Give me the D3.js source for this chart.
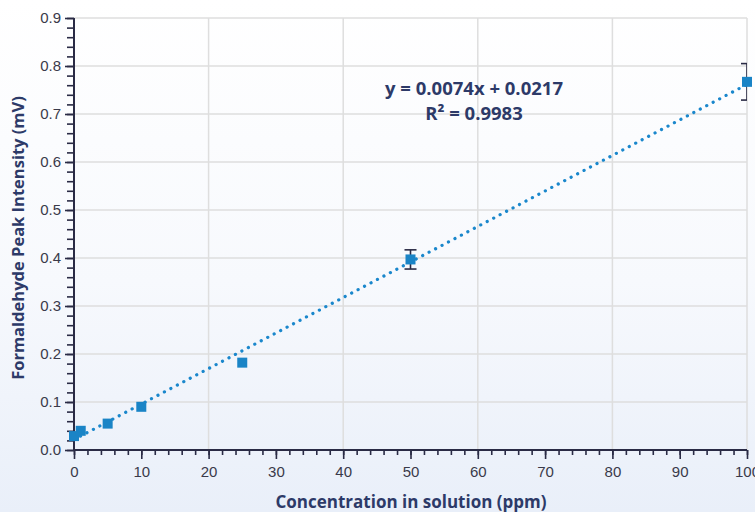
<!DOCTYPE html>
<html>
<head>
<meta charset="utf-8">
<script src="https://cdn.jsdelivr.net/npm/d3@7"></script>
<style>
  html, body { margin: 0; padding: 0; }
  body { width: 755px; height: 512px; overflow: hidden;
         background: linear-gradient(#ffffff 0%, #f7f9fd 55%, #e9eff9 100%); }
  svg { display: block; font-family: "Open Sans", "Lato", sans-serif; }
</style>
</head>
<body>
<div id="chart"></div>
<script>
// data
const conc = [0, 1, 5, 10, 25, 50, 100];
const intensity = [0.029, 0.040, 0.055, 0.090, 0.182, 0.397, 0.767];
const errors = [0, 0, 0, 0, 0, 0.020, 0.038];
const slope = 0.0074, intercept = 0.0217;
const xTicks = [0, 10, 20, 30, 40, 50, 60, 70, 80, 90, 100];
const yTicks = [0, 0.1, 0.2, 0.3, 0.4, 0.5, 0.6, 0.7, 0.8, 0.9];
const eqText = "y = 0.0074x + 0.0217";
const r2Text = "R² = 0.9983";

let points = conc.map((c, i) => ({ x: c, y: intensity[i], e: errors[i] }));

let fullWidth = 800, fullHeight = 512;
let margin = { top: 18, right: 53, bottom: 62, left: 74 };
let width = 673, height = 432;

let svg = d3.select("#chart").append("svg")
    .attr("width", fullWidth)
    .attr("height", fullHeight);

// clip for error bars (they are cut at the plot edge)
svg.append("defs").append("clipPath").attr("id", "plotclip")
    .append("rect").attr("x", -10).attr("y", -10).attr("width", width + 10).attr("height", height + 20);

let g = svg.append("g")
    .attr("transform", `translate(${margin.left},${margin.top})`);

let x = d3.scaleLinear().domain([0, 100]).range([0, width]);
let y = d3.scaleLinear().domain([0, 0.9]).range([height, 0]);

// grid lines
g.append("g")
    .selectAll("line")
    .data(yTicks.slice(1))
    .join("line")
    .attr("x1", 0).attr("x2", width)
    .attr("y1", d => y(d)).attr("y2", d => y(d))
    .style("stroke", "#dedede").style("stroke-width", 1.5);

g.append("g")
    .selectAll("line")
    .data(xTicks.filter(d => d > 0 && d % 20 === 0))
    .join("line")
    .attr("x1", d => x(d)).attr("x2", d => x(d))
    .attr("y1", 0).attr("y2", height)
    .style("stroke", "#dedede").style("stroke-width", 1.5);

// axes with minor ticks
const axisColor = "#2a2b45";
g.append("g")
    .attr("transform", `translate(0,${height})`)
    .call(d3.axisBottom(x).tickValues(d3.range(0, 101, 2)).tickSize(5).tickFormat(""))
    .call(a => a.select(".domain").remove());
g.append("g")
    .attr("transform", `translate(0,${height})`)
    .call(d3.axisBottom(x).tickValues(xTicks).tickSize(9).tickPadding(7).tickFormat(d3.format("d")))
    .call(a => a.select(".domain").remove());

g.append("g")
    .call(d3.axisLeft(y).tickValues(d3.range(0, 46).map(i => i * 0.02)).tickSize(7).tickFormat(""))
    .call(a => a.select(".domain").remove());
g.append("g")
    .call(d3.axisLeft(y).tickValues(yTicks).tickSize(9).tickPadding(4).tickFormat(d3.format(".1f")))
    .call(a => a.select(".domain").remove());

g.selectAll(".tick line").style("stroke", axisColor).style("stroke-width", 1.6);
g.selectAll(".tick text").style("fill", "#3a3a4a").style("font-size", "15px");

g.append("line").attr("x1", 0).attr("x2", width).attr("y1", height).attr("y2", height)
    .style("stroke", axisColor).style("stroke-width", 2);
g.append("line").attr("x1", 0).attr("x2", 0).attr("y1", 0).attr("y2", height)
    .style("stroke", axisColor).style("stroke-width", 2);

// trend line (dotted)
g.append("line")
    .attr("x1", x(0)).attr("y1", y(intercept))
    .attr("x2", x(100)).attr("y2", y(slope * 100 + intercept))
    .style("stroke", "#1a87cc")
    .style("stroke-width", 3.2)
    .style("stroke-linecap", "round")
    .style("stroke-dasharray", "0.1 7.2");

// error bars
let eb = g.append("g").attr("clip-path", "url(#plotclip)")
    .selectAll("g")
    .data(points.filter(d => d.e > 0))
    .join("g")
    .style("stroke", axisColor).style("stroke-width", 1.6);
eb.append("line")
    .attr("x1", d => x(d.x)).attr("x2", d => x(d.x))
    .attr("y1", d => y(d.y + d.e)).attr("y2", d => y(d.y - d.e));
eb.append("line")
    .attr("x1", d => x(d.x) - 6).attr("x2", d => x(d.x) + 6)
    .attr("y1", d => y(d.y + d.e)).attr("y2", d => y(d.y + d.e));
eb.append("line")
    .attr("x1", d => x(d.x) - 6).attr("x2", d => x(d.x) + 6)
    .attr("y1", d => y(d.y - d.e)).attr("y2", d => y(d.y - d.e));

// markers
g.selectAll(".pt")
    .data(points)
    .join("rect")
    .attr("class", "pt")
    .attr("x", d => x(d.x) - 5)
    .attr("y", d => y(d.y) - 5)
    .attr("width", 10).attr("height", 10)
    .style("fill", "#1a84c6");

// equation text
g.append("text")
    .attr("x", 400).attr("y", 77)
    .attr("text-anchor", "middle")
    .style("font-size", "18.5px").style("font-weight", "bold").style("fill", "#2d3a68")
    .text(eqText);
g.append("text")
    .attr("x", 400).attr("y", 102)
    .attr("text-anchor", "middle")
    .style("font-size", "18.5px").style("font-weight", "bold").style("fill", "#2d3a68")
    .text(r2Text);

// axis titles
svg.append("text")
    .attr("x", 411).attr("y", 508)
    .attr("text-anchor", "middle")
    .style("font-size", "17px").style("font-weight", "bold").style("fill", "#2d3a68")
    .text("Concentration in solution (ppm)");
svg.append("text")
    .attr("transform", "translate(24,238) rotate(-90)")
    .attr("text-anchor", "middle")
    .style("font-size", "16.5px").style("font-weight", "bold").style("fill", "#2d3a68")
    .text("Formaldehyde Peak Intensity (mV)");
</script>
</body>
</html>
